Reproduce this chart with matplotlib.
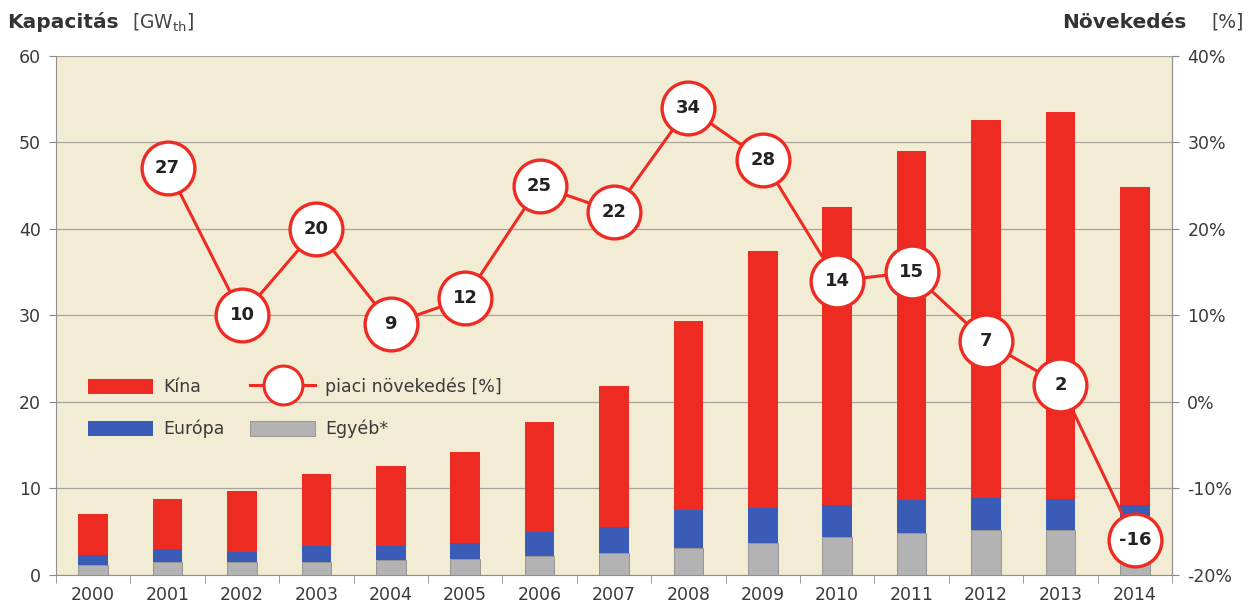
import matplotlib
matplotlib.use('Agg')
import matplotlib.pyplot as plt
from matplotlib.patches import Patch
from matplotlib.lines import Line2D
from matplotlib.ticker import FuncFormatter
import numpy as np

years = [str(y) for y in range(2000, 2015)]
total = [7.0, 8.8, 9.7, 11.7, 12.6, 14.2, 17.7, 21.9, 29.4, 37.4, 42.6, 49.0, 52.6, 53.5, 44.9]
europe_top = [2.3, 3.0, 2.6, 3.3, 3.4, 3.7, 5.0, 5.6, 7.5, 7.7, 8.1, 8.7, 8.9, 8.8, 8.1]
other = [1.1, 1.55, 1.55, 1.55, 1.75, 1.8, 2.2, 2.5, 3.1, 3.7, 4.4, 4.8, 5.2, 5.2, 4.5]
growth_years = years[1:]
growth = [27, 10, 20, 9, 12, 25, 22, 34, 28, 14, 15, 7, 2, -16]

europe = [e - o for e, o in zip(europe_top, other)]
china = [t - e for t, e in zip(total, europe_top)]

RED = '#ee2b23'
BLUE = '#3b5cb6'
GRAY = '#b3b3b3'
BG = '#f3ecd4'
TXT = '#3a3a3a'

plt.rcParams['font.family'] = ['DejaVu Sans']

fig = plt.figure(figsize=(12.5, 6.08), dpi=100)
ax = fig.add_axes([0.0448, 0.0543, 0.8928, 0.8536])
ax.set_facecolor(BG)

x = np.arange(len(years))
w = 0.4
ax.bar(x, other, w, color=GRAY, edgecolor='#8c8c8c', linewidth=0.6, zorder=3)
ax.bar(x, europe, w, bottom=other, color=BLUE, linewidth=0, zorder=3)
ax.bar(x, china, w, bottom=europe_top, color=RED, linewidth=0, zorder=3)

ax.set_xlim(-0.5, len(years) - 0.5)
ax.set_ylim(0, 60)
ax.set_yticks(range(0, 61, 10))
ax.set_xticks(x)
ax.set_xticklabels(years)
ax.set_xticks(np.arange(-0.5, len(years), 1), minor=True)
ax.tick_params(axis='x', which='major', length=0, labelsize=12.5, labelcolor=TXT, pad=8)
ax.tick_params(axis='x', which='minor', length=6, color='#888888', direction='out')
ax.tick_params(axis='y', length=5, color='#888888', labelsize=12.5, labelcolor=TXT, pad=6)
ax.grid(axis='y', color='#a8a39a', linewidth=0.9, zorder=1)
ax.set_axisbelow(True)
ax.spines['top'].set_visible(False)
for s in ['left', 'right', 'bottom']:
    ax.spines[s].set_color('#8f8f8f')

# legend sits on the bar axes so the growth circles stay on top of it
handles = [
    Patch(facecolor=RED, edgecolor='none'),
    Patch(facecolor=BLUE, edgecolor='none'),
    Line2D([0], [0], color=RED, linewidth=2.2, marker='o', markersize=28,
           markerfacecolor='white', markeredgecolor=RED, markeredgewidth=2.2),
    Patch(facecolor=GRAY, edgecolor='#8c8c8c', linewidth=0.6),
]
labels = ['Kína', 'Európa', 'piaci növekedés [%]', 'Egyéb*']
leg = ax.legend(handles, labels, ncol=2, frameon=False, loc='upper left',
                bbox_to_anchor=(0.015, 0.41), fontsize=12.5, handlelength=3.7,
                handleheight=1.0, labelspacing=1.35, columnspacing=1.5,
                handletextpad=0.6)
for t in leg.get_texts():
    t.set_color(TXT)

ax2 = ax.twinx()
ax2.set_ylim(-20, 40)
ax2.set_yticks(range(-20, 41, 10))
ax2.yaxis.set_major_formatter(FuncFormatter(lambda v, p: f'{int(v)}%'))
ax2.tick_params(axis='y', length=5, color='#888888', labelsize=12.5, labelcolor=TXT, pad=6)
for s in ['top', 'left', 'bottom']:
    ax2.spines[s].set_visible(False)
ax2.spines['right'].set_color('#8f8f8f')

gx = x[1:]
ax2.plot(gx, growth, color=RED, linewidth=2.2, marker='o', markersize=38,
         markerfacecolor='white', markeredgecolor=RED, markeredgewidth=2.4, zorder=5)
for xi, g in zip(gx, growth):
    ax2.text(xi, g, str(g), ha='center', va='center', fontsize=13,
             fontweight='bold', color='#222222', zorder=6)

fig.text(0.006, 0.963, 'Kapacitás', fontsize=14.5, fontweight='bold', color='#333333',
         ha='left', va='center')
fig.text(0.106, 0.963, r'[GW$_{\mathrm{th}}$]', fontsize=13.5, color='#444444',
         ha='left', va='center')
fig.text(0.949, 0.963, 'Növekedés', fontsize=14.5, fontweight='bold', color='#333333',
         ha='right', va='center')
fig.text(0.995, 0.963, '[%]', fontsize=13.5, color='#444444', ha='right', va='center')

fig.savefig('out.png', dpi=100)
